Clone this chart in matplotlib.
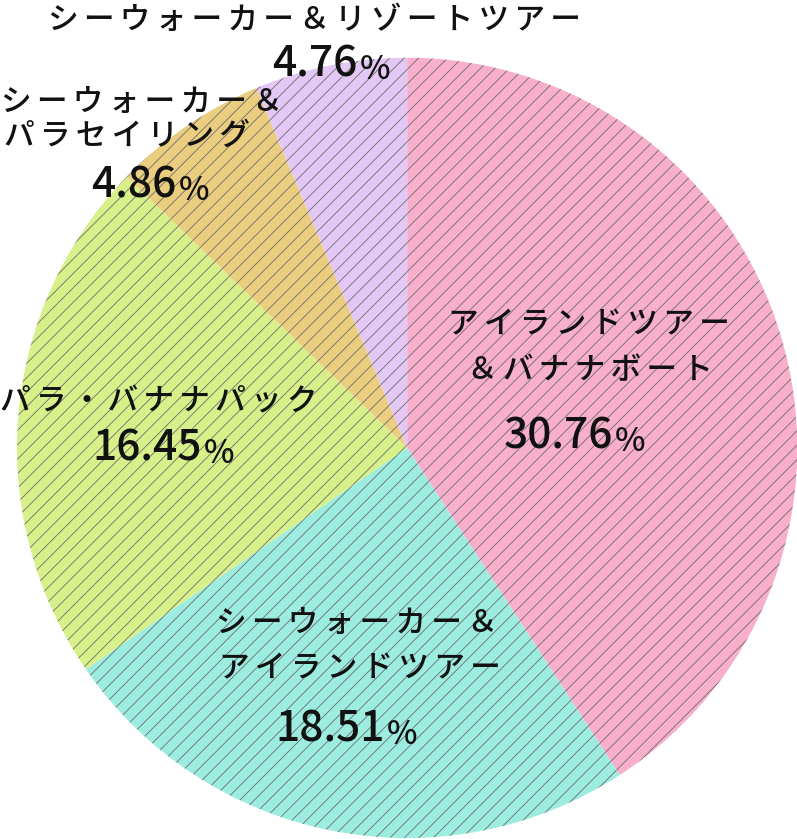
import matplotlib
matplotlib.use('Agg')
import matplotlib.pyplot as plt

plt.rcParams['font.family'] = ['Noto Sans CJK JP', 'DejaVu Sans']
plt.rcParams['hatch.linewidth'] = 0.45

# データ
labels = [['アイランドツアー', '＆バナナボート'],
          ['シーウォーカー＆', 'アイランドツアー'],
          ['パラ・バナナパック'],
          ['シーウォーカー＆', 'パラセイリング'],
          ['シーウォーカー＆リゾートツアー']]
values = [30.76, 18.51, 16.45, 4.86, 4.76]
pct_text = ['30.76', '18.51', '16.45', '4.86', '4.76']
colors = ['#f8afcc', '#9cece0', '#d8f08a', '#eacd7f', '#e3c7f5']

W, H, DPI = 797, 839, 130
fig = plt.figure(figsize=((W + 0.3) / DPI, (H + 0.3) / DPI), dpi=DPI)

# 円の中心 (407, 448)、半径 390 px
cx, cy, r = 407, 448, 390
ax = fig.add_axes([(cx - r) / W, (H - cy - r) / H, 2 * r / W, 2 * r / H])
wedges, _ = ax.pie(values, colors=colors, startangle=90, counterclock=False,
                   radius=1, wedgeprops=dict(linewidth=0, edgecolor='#6a6a6a'))
for w in wedges:
    w.set_hatch('///')
ax.set_xlim(-1, 1)
ax.set_ylim(-1, 1)
ax.axis('off')

SP = '\u2006'  # 字間


def spaced(s):
    return SP.join(s)


def px(x, y):
    return x / W, 1 - y / H


# ラベル位置 (px): 各行の x, y と揃え
name_pos = [[(589, 325, 'center'), (590, 370, 'center')],
            [(357, 623, 'center'), (360, 669, 'center')],
            [(0, 402, 'left')],
            [(1, 102, 'left'), (4, 136, 'left')],
            [(314, 20, 'center')]]
num_pos = [(558, 436), (330, 729), (147, 448), (134, 185), (315, 64)]

for names, pos in zip(labels, name_pos):
    for s, (x, y, ha) in zip(names, pos):
        fig.text(*px(x, y), spaced(s), fontsize=17, ha=ha, va='center',
                 color='#111111', fontweight='medium')

for t, (x, y) in zip(pct_text, num_pos):
    num = fig.text(*px(x, y), t, fontsize=23.5, ha='center', va='center',
                   color='#111111', fontweight='medium')
    ax.annotate('%', xy=(1, 0), xycoords=num, xytext=(1, 0),
                textcoords='offset points', fontsize=18, ha='left',
                va='bottom', color='#111111', fontweight='medium',
                annotation_clip=False)

fig.savefig('out.png', dpi=DPI)
